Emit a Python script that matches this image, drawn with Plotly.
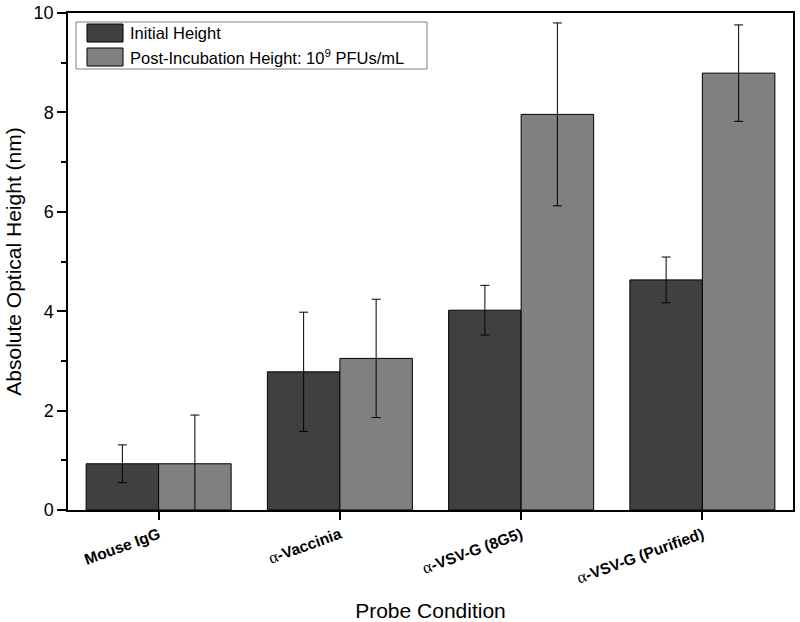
import plotly.graph_objects as go

categories = ["Mouse IgG", "α-Vaccinia", "α-VSV-G (8G5)", "α-VSV-G (Purified)"]
initial_height = [0.93, 2.78, 4.02, 4.63]
initial_err = [0.38, 1.20, 0.50, 0.46]
post_height = [0.93, 3.05, 7.96, 8.79]
post_err = [0.98, 1.19, 1.84, 0.97]
series_names = ["Initial Height", "Post-Incubation Height: 10<sup>9</sup> PFUs/mL"]
series_colors = ["#404040", "#808080"]

ALPHA = '<span style="font-family:Liberation Serif;font-weight:normal;font-size:17px">α</span>'
tick_text = [c.replace("α", ALPHA) for c in categories]

W, H = 800, 622
L, R, T, B = 68, 7, 13, 112
PW, PH = W - L - R, H - T - B


def px_x(x):
    return (x - L) / PW


def px_y(y):
    return (H - B - y) / PH


fig = go.Figure()
for name, vals, errs, col in [
    (series_names[0], initial_height, initial_err, series_colors[0]),
    (series_names[1], post_height, post_err, series_colors[1]),
]:
    fig.add_trace(go.Bar(
        x=categories, y=vals, name=name, showlegend=False,
        marker=dict(color=col, line=dict(color="#000000", width=1)),
        error_y=dict(type="data", array=errs, visible=True,
                     color="#000000", thickness=1, width=4.5),
    ))

# custom legend (box, swatches, labels)
shapes = [dict(type="rect", xref="paper", yref="paper",
               x0=px_x(76), x1=px_x(427), y0=px_y(69), y1=px_y(22),
               line=dict(color="#808080", width=1), fillcolor="white", layer="above")]
annotations = []
for i, (name, col) in enumerate(zip(series_names, series_colors)):
    y0 = 24 + i * 24
    shapes.append(dict(type="rect", xref="paper", yref="paper",
                       x0=px_x(87), x1=px_x(123), y0=px_y(y0 + 18), y1=px_y(y0),
                       line=dict(color="#000000", width=1), fillcolor=col, layer="above"))
    annotations.append(dict(text=name, xref="paper", yref="paper",
                            x=px_x(128), y=px_y(y0 + 9), xanchor="left", yanchor="middle",
                            showarrow=False, font=dict(size=16.5, color="black")))

fig.update_layout(
    width=W, height=H,
    margin=dict(l=L, r=R, t=T, b=B),
    barmode="group", bargap=0.2, bargroupgap=0,
    plot_bgcolor="white", paper_bgcolor="white",
    font=dict(family="Arial, Liberation Sans, sans-serif", color="black"),
    showlegend=False,
    shapes=shapes, annotations=annotations,
)
fig.update_xaxes(
    type="category", range=[-0.5, 3.5], automargin=False,
    tickmode="array", tickvals=categories, ticktext=tick_text,
    tickangle=-20, tickfont=dict(size=15.5, weight="bold"),
    ticks="outside", ticklen=8, tickwidth=1.5, tickcolor="black",
    showline=True, linecolor="black", linewidth=1.5, mirror=True,
    showgrid=False,
    title=dict(text="Probe Condition", font=dict(size=21), standoff=18),
)
fig.update_yaxes(
    range=[0, 10], dtick=2, tick0=0, automargin=False,
    ticks="outside", ticklen=9, tickwidth=1.5, tickcolor="black",
    tickfont=dict(size=18),
    minor=dict(dtick=1, ticks="outside", ticklen=5, tickwidth=1.5, tickcolor="black"),
    showline=True, linecolor="black", linewidth=1.5, mirror=True,
    showgrid=False, zeroline=False,
    title=dict(text="Absolute Optical Height (nm)", font=dict(size=21), standoff=6),
)

fig.write_html("out.html", config={"displayModeBar": False},
               post_script="document.body.style.margin='0';document.body.style.overflow='hidden';")
